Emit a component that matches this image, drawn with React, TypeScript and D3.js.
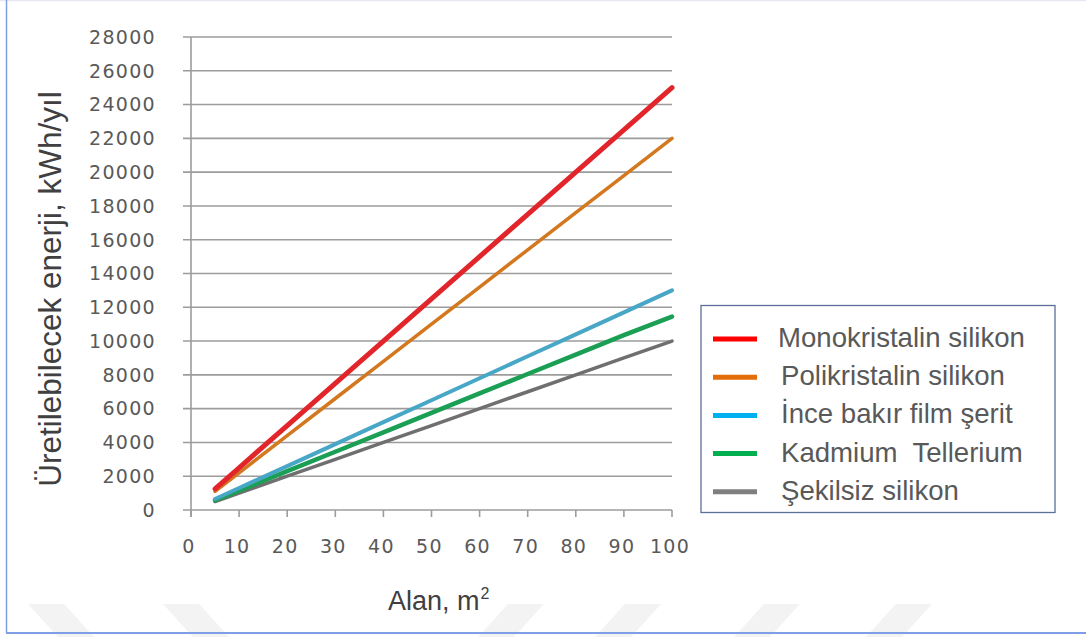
import React from "react";
import * as d3 from "d3";

// Panel area (m²) at which each series is sampled
const areas = [5, 10, 20, 30, 40, 50, 60, 70, 80, 90, 100];

// Annual energy yield, kWh/yıl
const monokristalin = [1250, 2500, 5000, 7500, 10000, 12500, 15000, 17500, 20000, 22500, 25000];
const polikristalin = [1100, 2200, 4400, 6600, 8800, 11000, 13200, 15400, 17600, 19800, 22000];
const inceBakir = [650, 1300, 2600, 3900, 5200, 6500, 7800, 9100, 10400, 11700, 13000];
const kadmium = [575, 1150, 2300, 3450, 4600, 5750, 6900, 8050, 9200, 10350, 11450];
const sekilsiz = [500, 1000, 2000, 3000, 4000, 5000, 6000, 7000, 8000, 9000, 10000];

const seriesNames = [
  "Monokristalin silikon",
  "Polikristalin silikon",
  "İnce bakır film şerit",
  "Kadmium  Tellerium",
  "Şekilsiz silikon",
];

const yTicks = [0, 2000, 4000, 6000, 8000, 10000, 12000, 14000, 16000, 18000, 20000, 22000, 24000, 26000, 28000];
const xTicks = [0, 10, 20, 30, 40, 50, 60, 70, 80, 90, 100];

const W = 1086;
const H = 637;

const plotLines = [
  { values: monokristalin, color: "#e2252b", width: 5 },
  { values: polikristalin, color: "#d4781f", width: 3.5 },
  { values: inceBakir, color: "#48a6c6", width: 4 },
  { values: kadmium, color: "#1a9f55", width: 4.5 },
  { values: sekilsiz, color: "#6f6f6f", width: 3.5 },
];
const legendColors = ["#ff0000", "#e46c0a", "#00b0f0", "#00b050", "#7f7f7f"];

export default function App() {
  const x = d3.scaleLinear().domain([0, 100]).range([191, 672]);
  const y = d3.scaleLinear().domain([0, 28000]).range([510, 37]);
  const line = d3
    .line<[number, number]>()
    .x((d) => x(d[0]))
    .y((d) => y(d[1]));

  const tickFont = "'DejaVu Sans', Verdana, sans-serif";
  const textFont = "'Liberation Sans', Arial, sans-serif";

  // faint chevron watermark along the bottom
  const chevrons = [
    { x0: 28, dir: 1 },
    { x0: 163, dir: 1 },
    { x0: 478, dir: -1 },
    { x0: 595, dir: -1 },
    { x0: 734, dir: -1 },
    { x0: 866, dir: -1 },
  ];

  return (
    <svg
      width={W}
      height={H}
      style={{ position: "absolute", left: 0, top: 0, display: "block", background: "#fff" }}
    >
      {chevrons.map((c, i) => {
        const top = 604;
        const bot = 637;
        const w = 36;
        const shift = 30;
        const pts =
          c.dir === 1
            ? [
                [c.x0, top],
                [c.x0 + w, top],
                [c.x0 + w + shift, bot],
                [c.x0 + shift, bot],
              ]
            : [
                [c.x0 + shift, top],
                [c.x0 + shift + w, top],
                [c.x0 + w, bot],
                [c.x0, bot],
              ];
        return <polygon key={i} points={pts.map((p) => p.join(",")).join(" ")} fill="#f3f3f3" />;
      })}

      {/* page frame */}
      <line x1={0} x2={W} y1={0.5} y2={0.5} stroke="#e6e8f4" strokeWidth={1.5} />
      <line x1={6.5} x2={6.5} y1={0} y2={633} stroke="#7f9ee6" strokeWidth={1.5} />
      <line x1={6} x2={W} y1={633} y2={633} stroke="#7f9ee6" strokeWidth={2} />

      {/* gridlines with left tick stubs */}
      {yTicks.map((t) => (
        <line key={"g" + t} x1={183} x2={x(100)} y1={y(t)} y2={y(t)} stroke="#9c9c9c" strokeWidth={1.6} />
      ))}
      {/* y axis */}
      <line x1={x(0)} x2={x(0)} y1={y(28000)} y2={y(0) + 7} stroke="#9c9c9c" strokeWidth={1.6} />
      {/* x ticks */}
      {xTicks.map((t) => (
        <line key={"xt" + t} x1={x(t)} x2={x(t)} y1={y(0)} y2={y(0) + 7} stroke="#9c9c9c" strokeWidth={1.6} />
      ))}

      {/* y tick labels */}
      {yTicks.map((t) => (
        <text
          key={"yl" + t}
          x={156}
          y={y(t)}
          dy="0.36em"
          textAnchor="end"
          fontFamily={tickFont}
          fontSize={19}
          letterSpacing={1.3}
          fill="#595959"
        >
          {t}
        </text>
      ))}
      {/* x tick labels */}
      {xTicks.map((t) => (
        <text
          key={"xl" + t}
          x={x(t) - 2}
          y={546}
          dy="0.36em"
          textAnchor="middle"
          fontFamily={tickFont}
          fontSize={19}
          letterSpacing={1.3}
          fill="#595959"
        >
          {t}
        </text>
      ))}

      {/* series */}
      {plotLines
        .slice()
        .reverse()
        .map((s, i) => (
          <path
            key={"s" + i}
            d={line(areas.map((a, j) => [a, s.values[j]] as [number, number])) || ""}
            fill="none"
            stroke={s.color}
            strokeWidth={s.width}
            strokeLinecap="round"
          />
        ))}

      {/* axis titles */}
      <text
        transform="translate(61,289) rotate(-90)"
        textAnchor="middle"
        fontFamily={textFont}
        fontSize={31.5}
        fill="#404040"
      >
        Üretilebilecek enerji, kWh/yıl
      </text>
      <text x={388} y={610} fontFamily={textFont} fontSize={27} fill="#404040">
        Alan, m
        <tspan fontSize={16} dy={-11} dx={1}>
          2
        </tspan>
      </text>

      {/* legend */}
      <rect x={701} y={305.5} width={354} height={207} fill="#fff" stroke="#5b6f99" strokeWidth={1.3} />
      {seriesNames.map((name, i) => {
        const base = 347 + i * 38.2;
        return (
          <g key={"lg" + i}>
            <line x1={713} x2={757} y1={base - 8} y2={base - 8} stroke={legendColors[i]} strokeWidth={5} />
            <text
              x={i === 0 ? 778 : 781}
              y={base}
              fontFamily={textFont}
              fontSize={27.6}
              fill="#595959"
              style={{ whiteSpace: "pre" }}
            >
              {name}
            </text>
          </g>
        );
      })}
    </svg>
  );
}
